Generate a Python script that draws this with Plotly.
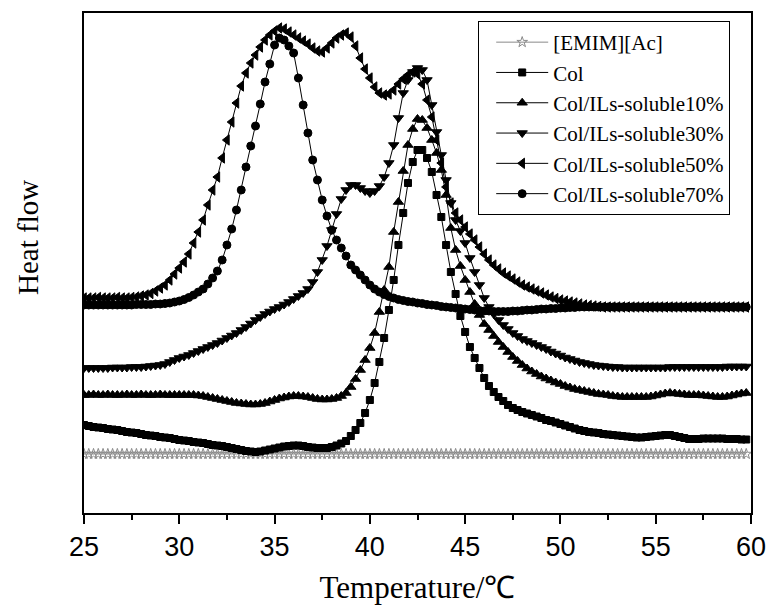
import plotly.graph_objects as go

TEMPERATURE = [
    25.0, 25.25, 25.5, 25.75, 26.0, 26.25, 26.5, 26.75, 27.0, 27.25,
    27.5, 27.75, 28.0, 28.25, 28.5, 28.75, 29.0, 29.25, 29.5, 29.75,
    30.0, 30.25, 30.5, 30.75, 31.0, 31.25, 31.5, 31.75, 32.0, 32.25,
    32.5, 32.75, 33.0, 33.25, 33.5, 33.75, 34.0, 34.25, 34.5, 34.75,
    35.0, 35.25, 35.5, 35.75, 36.0, 36.25, 36.5, 36.75, 37.0, 37.25,
    37.5, 37.75, 38.0, 38.25, 38.5, 38.75, 39.0, 39.25, 39.5, 39.75,
    40.0, 40.25, 40.5, 40.75, 41.0, 41.25, 41.5, 41.75, 42.0, 42.25,
    42.5, 42.75, 43.0, 43.25, 43.5, 43.75, 44.0, 44.25, 44.5, 44.75,
    45.0, 45.25, 45.5, 45.75, 46.0, 46.25, 46.5, 46.75, 47.0, 47.25,
    47.5, 47.75, 48.0, 48.25, 48.5, 48.75, 49.0, 49.25, 49.5, 49.75,
    50.0, 50.25, 50.5, 50.75, 51.0, 51.25, 51.5, 51.75, 52.0, 52.25,
    52.5, 52.75, 53.0, 53.25, 53.5, 53.75, 54.0, 54.25, 54.5, 54.75,
    55.0, 55.25, 55.5, 55.75, 56.0, 56.25, 56.5, 56.75, 57.0, 57.25,
    57.5, 57.75, 58.0, 58.25, 58.5, 58.75, 59.0, 59.25, 59.5, 59.75,
]

EMIM_AC = [
    5.9, 5.9, 5.9, 5.9, 5.9, 5.9, 5.9, 5.9, 5.9, 5.9,
    5.9, 5.9, 5.9, 5.9, 5.9, 5.9, 5.9, 5.9, 5.9, 5.9,
    5.9, 5.9, 5.9, 5.9, 5.9, 5.9, 5.9, 5.9, 5.9, 5.9,
    5.9, 5.9, 5.9, 5.9, 5.9, 5.9, 5.9, 5.9, 5.9, 5.9,
    5.9, 5.9, 5.9, 5.9, 5.9, 5.9, 5.9, 5.9, 5.9, 5.9,
    5.9, 5.9, 5.9, 5.9, 5.9, 5.9, 5.9, 5.9, 5.9, 5.9,
    5.9, 5.9, 5.9, 5.9, 5.9, 5.9, 5.9, 5.9, 5.9, 5.9,
    5.9, 5.9, 5.9, 5.9, 5.9, 5.9, 5.9, 5.9, 5.9, 5.9,
    5.9, 5.9, 5.9, 5.9, 5.9, 5.9, 5.9, 5.9, 5.9, 5.9,
    5.9, 5.9, 5.9, 5.9, 5.9, 5.9, 5.9, 5.9, 5.9, 5.9,
    5.9, 5.9, 5.9, 5.9, 5.9, 5.9, 5.9, 5.9, 5.9, 5.9,
    5.9, 5.9, 5.9, 5.9, 5.9, 5.9, 5.9, 5.9, 5.9, 5.9,
    5.9, 5.9, 5.9, 5.9, 5.9, 5.9, 5.9, 5.9, 5.9, 5.9,
    5.9, 5.9, 5.9, 5.9, 5.9, 5.9, 5.9, 5.9, 5.9, 5.9,
]

COL = [
    8.8, 8.7, 8.6, 8.55, 8.5, 8.4, 8.35, 8.3, 8.2, 8.1,
    8.05, 8.0, 7.9, 7.8, 7.75, 7.7, 7.6, 7.55, 7.5, 7.4,
    7.3, 7.25, 7.2, 7.1, 7.05, 7.0, 6.9, 6.8, 6.75, 6.7,
    6.6, 6.5, 6.4, 6.3, 6.2, 6.15, 6.1, 6.15, 6.25, 6.35,
    6.45, 6.55, 6.65, 6.7, 6.75, 6.75, 6.7, 6.6, 6.55, 6.5,
    6.5, 6.5, 6.6, 6.75, 6.95, 7.2, 7.7, 8.3, 9.0, 10.0,
    11.3, 13.0, 15.1, 17.5, 20.3, 23.3, 26.8, 30.0, 33.0, 35.1,
    36.3, 36.3, 35.5, 34.1, 31.8, 29.6, 26.8, 24.1, 21.9, 19.7,
    18.1, 16.6, 15.5, 14.5, 13.5, 12.7, 12.1, 11.6, 11.2, 10.8,
    10.5, 10.3, 10.1, 9.95, 9.8, 9.65, 9.5, 9.3, 9.2, 9.05,
    8.9, 8.75, 8.6, 8.45, 8.3, 8.2, 8.1, 8.05, 8.0, 7.9,
    7.85, 7.8, 7.75, 7.7, 7.65, 7.6, 7.55, 7.55, 7.6, 7.65,
    7.7, 7.75, 7.8, 7.8, 7.7, 7.6, 7.5, 7.4, 7.4, 7.4,
    7.45, 7.45, 7.45, 7.45, 7.45, 7.4, 7.4, 7.4, 7.35, 7.35,
]

SOLUBLE_10 = [
    11.8, 11.8, 11.85, 11.8, 11.8, 11.85, 11.8, 11.8, 11.8, 11.85,
    11.8, 11.8, 11.85, 11.8, 11.8, 11.8, 11.85, 11.8, 11.8, 11.8,
    11.8, 11.8, 11.8, 11.8, 11.75, 11.7, 11.6, 11.5, 11.4, 11.3,
    11.2, 11.1, 11.0, 10.95, 10.9, 10.85, 10.85, 10.9, 11.0, 11.15,
    11.3, 11.45, 11.55, 11.65, 11.7, 11.7, 11.65, 11.6, 11.5, 11.4,
    11.35, 11.35, 11.4, 11.5, 11.7, 12.0, 12.6, 13.4, 14.3, 15.3,
    16.5, 18.0, 20.1, 22.3, 24.6, 28.1, 31.1, 34.2, 36.8, 38.4,
    39.4, 39.3, 38.5, 37.3, 36.0, 34.3, 31.8, 28.5, 26.3, 24.7,
    23.3, 22.1, 20.9, 19.8, 18.9, 18.3, 17.7, 17.1, 16.6, 16.1,
    15.6, 15.2, 14.8, 14.45, 14.15, 13.9, 13.65, 13.45, 13.25, 13.05,
    12.9, 12.7, 12.55, 12.4, 12.3, 12.2, 12.1, 12.0, 11.9, 11.85,
    11.8, 11.7, 11.65, 11.6, 11.6, 11.6, 11.6, 11.6, 11.6, 11.65,
    11.75, 11.85, 11.95, 12.0, 11.95, 11.9, 11.85, 11.8, 11.8, 11.8,
    11.75, 11.7, 11.65, 11.6, 11.6, 11.65, 11.75, 11.85, 11.95, 12.0,
]

SOLUBLE_30 = [
    14.5, 14.5, 14.5, 14.5, 14.5, 14.5, 14.55, 14.55, 14.55, 14.55,
    14.6, 14.6, 14.6, 14.65, 14.7, 14.75, 14.8, 14.9, 15.1, 15.3,
    15.5, 15.65, 15.8, 16.0, 16.2, 16.4, 16.6, 16.8, 17.0, 17.25,
    17.5, 17.75, 18.0, 18.3, 18.6, 18.95, 19.3, 19.6, 19.9, 20.15,
    20.4, 20.6, 20.85, 21.1, 21.4, 21.7, 22.0, 22.4, 23.1, 24.1,
    25.3, 26.7, 28.3, 29.9, 31.4, 32.3, 32.8, 32.8, 32.5, 32.2,
    32.0, 32.2, 32.7, 33.6, 35.0, 36.8, 39.5, 42.0, 43.3, 44.1,
    44.5, 44.3, 43.3, 40.8, 38.1, 35.8, 33.3, 31.0, 29.3, 28.2,
    27.0, 25.5, 24.1, 22.8, 21.5, 20.6, 19.9, 19.3, 18.8, 18.4,
    18.0, 17.7, 17.4, 17.2, 17.0, 16.8, 16.6, 16.4, 16.15, 15.95,
    15.75, 15.55, 15.4, 15.25, 15.1, 15.0, 14.9, 14.8, 14.75, 14.7,
    14.65, 14.6, 14.6, 14.55, 14.55, 14.55, 14.55, 14.55, 14.55, 14.55,
    14.55, 14.55, 14.55, 14.6, 14.6, 14.6, 14.6, 14.6, 14.6, 14.6,
    14.6, 14.6, 14.6, 14.6, 14.6, 14.65, 14.65, 14.65, 14.65, 14.65,
]

SOLUBLE_50 = [
    21.5, 21.5, 21.5, 21.55, 21.5, 21.5, 21.5, 21.55, 21.5, 21.5,
    21.55, 21.6, 21.7, 21.8, 21.95, 22.2, 22.5, 22.8, 23.3, 23.9,
    24.5, 25.1, 25.9, 27.0, 28.1, 29.3, 30.8, 32.3, 33.6, 35.5,
    37.3, 39.1, 41.0, 42.7, 44.0, 45.0, 45.8, 46.6, 47.3, 47.8,
    48.2, 48.5, 48.4, 48.1, 47.8, 47.5, 47.2, 46.9, 46.5, 46.2,
    46.1, 46.5, 47.0, 47.5, 47.8, 48.0, 47.6, 46.7, 45.5, 44.4,
    43.5, 42.6, 42.0, 41.8, 41.9, 42.3, 42.9, 43.4, 43.8, 44.1,
    43.9, 42.9, 41.3, 39.6, 37.3, 35.0, 32.6, 31.0, 30.0, 29.3,
    28.6, 27.9, 27.3, 26.6, 25.9, 25.3, 24.8, 24.4, 24.0, 23.7,
    23.4, 23.1, 22.8, 22.6, 22.4, 22.2, 22.0, 21.8, 21.6, 21.45,
    21.3, 21.2, 21.1, 21.0, 20.9, 20.8, 20.75, 20.7, 20.65, 20.6,
    20.6, 20.6, 20.6, 20.6, 20.6, 20.6, 20.6, 20.6, 20.6, 20.6,
    20.6, 20.6, 20.6, 20.6, 20.6, 20.6, 20.6, 20.6, 20.6, 20.6,
    20.6, 20.6, 20.6, 20.6, 20.6, 20.6, 20.6, 20.6, 20.6, 20.6,
]

SOLUBLE_70 = [
    20.8, 20.8, 20.8, 20.8, 20.8, 20.8, 20.8, 20.8, 20.8, 20.8,
    20.8, 20.85, 20.85, 20.85, 20.85, 20.9, 20.9, 20.95, 21.0, 21.1,
    21.2, 21.35, 21.55, 21.8, 22.1, 22.4, 22.9, 23.5, 24.2, 25.3,
    26.8, 28.4, 30.3, 32.3, 34.6, 36.7, 38.7, 40.9, 43.1, 44.9,
    46.8, 47.5, 47.3, 46.7, 46.0, 43.5, 40.8, 38.0, 35.3, 33.3,
    31.3, 29.7, 28.3, 27.3, 26.5, 25.7, 24.8, 24.3, 23.8, 23.3,
    22.8, 22.4, 22.1, 21.85, 21.65, 21.5, 21.35, 21.25, 21.15, 21.1,
    21.0, 20.95, 20.85, 20.8, 20.75, 20.65, 20.6, 20.55, 20.5, 20.45,
    20.4, 20.35, 20.3, 20.25, 20.2, 20.2, 20.15, 20.15, 20.15, 20.15,
    20.2, 20.2, 20.25, 20.3, 20.3, 20.35, 20.4, 20.4, 20.45, 20.45,
    20.5, 20.5, 20.55, 20.55, 20.6, 20.6, 20.6, 20.6, 20.6, 20.6,
    20.6, 20.6, 20.6, 20.6, 20.6, 20.6, 20.6, 20.6, 20.6, 20.6,
    20.6, 20.6, 20.6, 20.6, 20.6, 20.6, 20.6, 20.6, 20.6, 20.6,
    20.6, 20.6, 20.6, 20.6, 20.6, 20.6, 20.6, 20.6, 20.6, 20.6,
]

SERIES_NAMES = [
    "[EMIM][Ac]",
    "Col",
    "Col/ILs-soluble10%",
    "Col/ILs-soluble30%",
    "Col/ILs-soluble50%",
    "Col/ILs-soluble70%",
]
SERIES_VALUES = [EMIM_AC, COL, SOLUBLE_10, SOLUBLE_30, SOLUBLE_50, SOLUBLE_70]
SYMBOLS = ["star-open", "square", "triangle-up", "triangle-down", "triangle-left", "circle"]
MARKER_COLORS = ["#8a8a8a", "black", "black", "black", "black", "black"]
MARKER_SIZES = [8, 7, 9, 9, 9, 8]

X_TICKS = [25, 30, 35, 40, 45, 50, 55, 60]

fig = go.Figure()
for name, vals, sym, mc, ms in zip(SERIES_NAMES, SERIES_VALUES, SYMBOLS, MARKER_COLORS, MARKER_SIZES):
    fig.add_trace(go.Scatter(
        x=TEMPERATURE, y=vals, name=name, mode="lines+markers",
        line=dict(color="black" if mc == "black" else "#8a8a8a", width=1),
        marker=dict(symbol=sym, size=ms, color=mc,
                    line=dict(width=1, color=mc)),
    ))

fig.update_layout(
    width=771, height=608,
    margin=dict(l=84, r=20, t=13, b=95),
    paper_bgcolor="white", plot_bgcolor="white",
    showlegend=True,
    legend=dict(
        x=0.591, y=0.984, xanchor="left", yanchor="top",
        bgcolor="white", bordercolor="black", borderwidth=1,
        font=dict(family="Liberation Serif", size=21, color="black"),
        itemwidth=52, indentation=12,
    ),
    xaxis=dict(
        range=[25, 60], tickvals=X_TICKS, ticktext=[str(t) for t in X_TICKS],
        ticks="outside", ticklen=9, tickwidth=2, tickcolor="black",
        minor=dict(dtick=2.5, ticks="outside", ticklen=5, tickwidth=1.5, tickcolor="black"),
        showline=True, linecolor="black", linewidth=2, mirror=True,
        showgrid=False, zeroline=False, automargin=False,
        tickfont=dict(family="Liberation Sans", size=27, color="black"),
        title=dict(text="Temperature/℃", font=dict(family="Liberation Serif", size=31, color="black"),
                   standoff=15),
    ),
    yaxis=dict(
        range=[0, 50], showticklabels=False, ticks="",
        showline=True, linecolor="black", linewidth=2, mirror=True,
        showgrid=False, zeroline=False, automargin=False,
    ),
    annotations=[dict(
        text="Heat flow", textangle=-90, showarrow=False,
        xref="paper", yref="paper", x=-0.084, y=0.552,
        xanchor="center", yanchor="middle",
        font=dict(family="Liberation Serif", size=29, color="black"),
    )],
)

fig.write_html("out.html")
